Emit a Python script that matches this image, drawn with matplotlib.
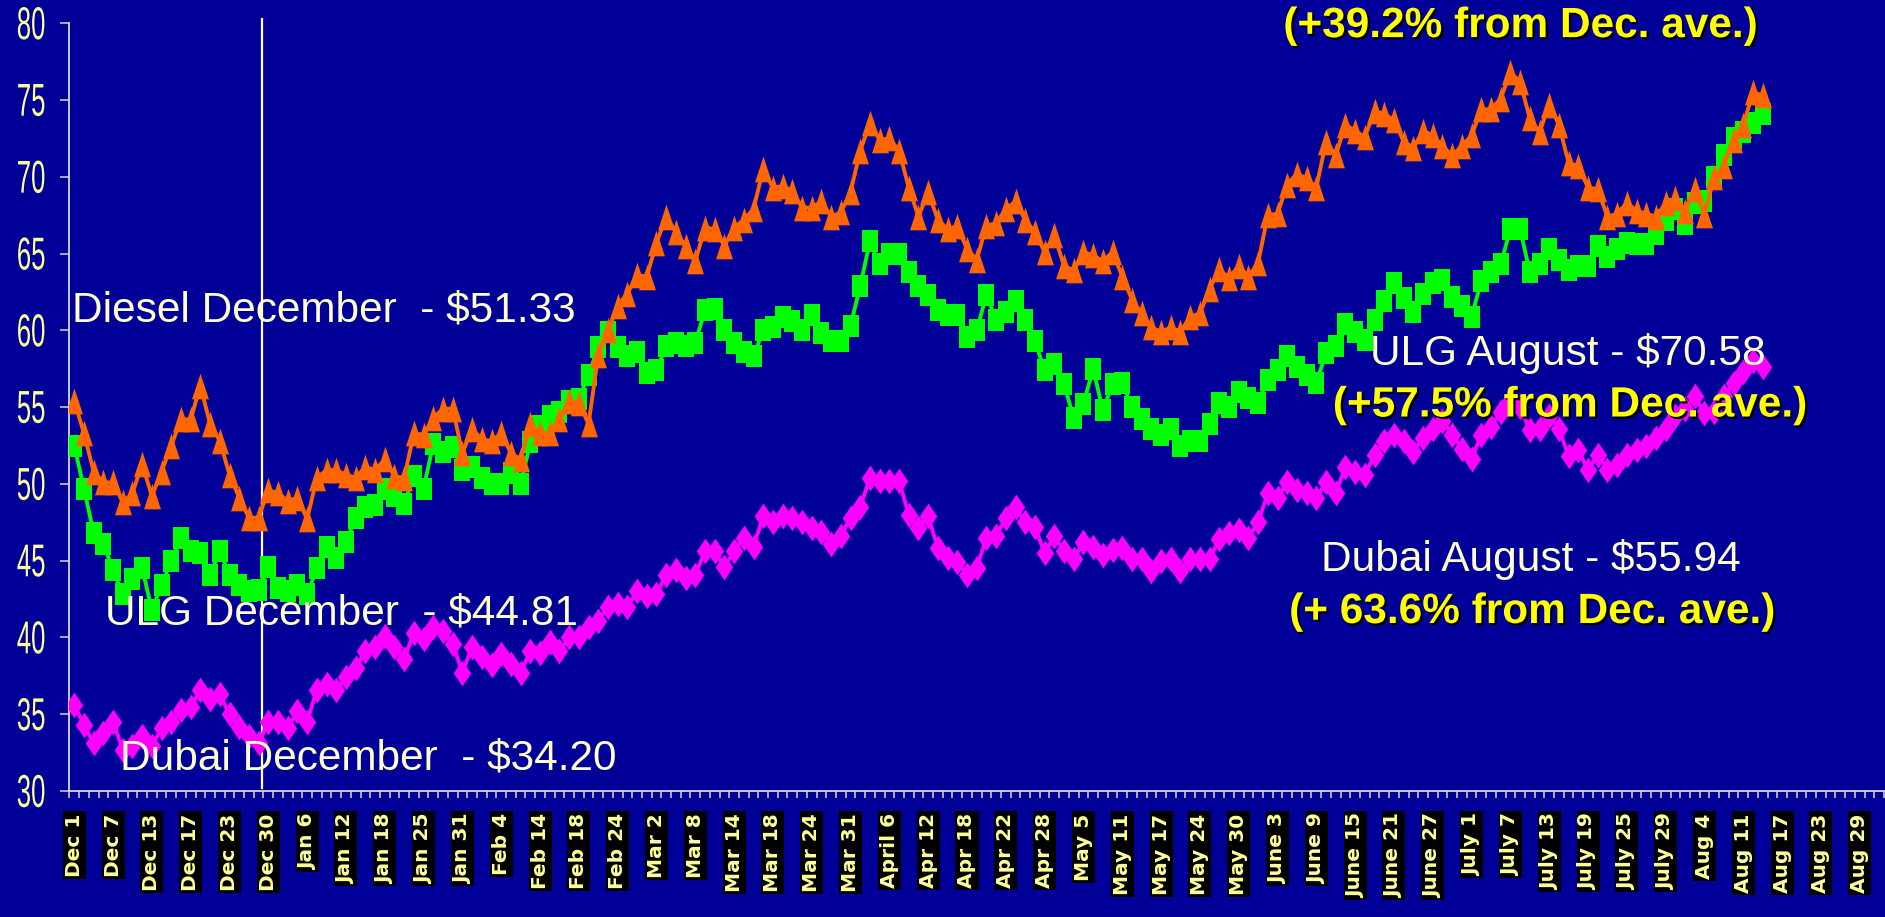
import matplotlib
matplotlib.use("Agg")
import matplotlib.pyplot as plt
import matplotlib.patheffects as pe
from matplotlib.textpath import TextPath
from matplotlib.patches import PathPatch
from matplotlib.transforms import Affine2D
from matplotlib.font_manager import FontProperties

# --- data (daily prices, Dec 1 .. Aug 15) ---
diesel = [
    55.4, 53.3, 50.8, 50.1, 50.1, 48.8, 49.4, 51.3, 49.2, 50.8,
    52.5, 54.2, 54.2, 56.4, 53.9, 52.8, 50.6, 49.1, 47.8, 47.8,
    49.6, 49.4, 48.9, 49.1, 47.7, 50.4, 50.9, 50.9, 50.6, 50.4,
    51.1, 50.9, 51.6, 50.5, 50.4, 53.3, 53.2, 54.3, 54.9, 54.9,
    52.0, 53.6, 52.9, 52.8, 53.3, 52.0, 51.6, 53.9, 53.3, 53.3,
    54.2, 55.4, 55.3, 53.9, 58.4, 60.0, 61.6, 62.4, 63.6, 63.5,
    65.7, 67.4, 66.4, 65.5, 64.5, 66.7, 66.6, 65.5, 66.7, 67.2,
    67.9, 70.5, 69.3, 69.4, 69.1, 68.0, 68.0, 68.4, 67.4, 67.7,
    69.0, 71.7, 73.5, 72.4, 72.5, 71.7, 69.3, 67.4, 69.0, 67.2,
    66.6, 66.8, 65.3, 64.6, 66.8, 67.0, 67.9, 68.4, 67.2, 66.4,
    65.1, 66.2, 64.2, 63.9, 65.1, 64.9, 64.5, 65.1, 63.5, 62.0,
    61.1, 60.2, 59.9, 60.2, 59.9, 60.9, 61.1, 62.7, 64.0, 63.4,
    64.2, 63.5, 64.4, 67.5, 67.6, 69.5, 70.2, 69.9, 69.3, 72.3,
    71.4, 73.4, 73.0, 72.6, 74.3, 74.1, 73.7, 72.3, 71.9, 73.0,
    72.7, 72.0, 71.4, 72.0, 72.7, 74.4, 74.4, 75.1, 76.8, 76.2,
    73.8, 72.9, 74.7, 73.4, 70.9, 70.7, 69.3, 69.2, 67.4, 67.6,
    68.3, 67.8, 67.6, 67.4, 68.3, 68.6, 67.8, 69.2, 67.5, 70.0,
    70.7, 72.4, 73.4, 75.5, 75.3,
]

ulg = [
    52.5, 49.7, 46.8, 46.1, 44.4, 42.8, 43.8, 44.5, 41.8, 43.4,
    45.0, 46.5, 45.6, 45.5, 44.1, 45.6, 44.1, 43.4, 43.0, 43.1,
    44.6, 43.2, 43.0, 43.4, 42.8, 44.5, 45.9, 45.2, 46.2, 47.8,
    48.5, 48.6, 49.7, 49.2, 48.7, 50.5, 49.7, 52.6, 52.1, 52.4,
    50.9, 51.1, 50.4, 50.0, 50.0, 50.7, 50.0, 52.7, 53.8, 54.4,
    54.7, 55.4, 55.5, 57.1, 58.9, 59.9, 58.9, 58.3, 58.6, 57.2,
    57.4, 59.0, 59.2, 59.0, 59.2, 61.3, 61.4, 60.0, 59.2, 58.6,
    58.3, 60.0, 60.2, 60.9, 60.6, 60.0, 61.0, 59.8, 59.3, 59.3,
    60.3, 62.9, 65.8, 64.3, 65.0, 65.0, 63.8, 62.9, 62.3, 61.3,
    61.0, 61.0, 59.6, 60.0, 62.3, 60.7, 61.2, 61.9, 60.7, 59.3,
    57.4, 57.8, 56.5, 54.3, 55.2, 57.5, 54.8, 56.5, 56.6, 55.0,
    54.2, 53.6, 53.2, 53.6, 52.5, 52.8, 52.8, 53.9, 55.3, 55.0,
    56.0, 55.6, 55.3, 56.8, 57.4, 58.3, 57.6, 57.1, 56.6, 58.5,
    59.0, 60.4, 59.9, 59.4, 60.7, 61.9, 63.1, 62.1, 61.2, 62.4,
    63.1, 63.3, 62.2, 61.6, 60.9, 63.2, 63.8, 64.3, 66.6, 66.6,
    63.8, 64.3, 65.3, 64.6, 63.9, 64.2, 64.2, 65.5, 64.8, 65.3,
    65.7, 65.6, 65.6, 66.3, 67.2, 67.9, 66.9, 68.3, 68.4, 70.0,
    71.4, 72.5, 72.9, 73.5, 74.1,
]

dubai = [
    35.6, 34.3, 33.1, 33.8, 34.5, 32.7, 32.9, 33.6, 32.9, 34.1,
    34.5, 35.3, 35.5, 36.6, 36.0, 36.3, 35.0, 34.2, 33.6, 33.1,
    34.5, 34.5, 34.1, 35.2, 34.5, 36.6, 37.0, 36.6, 37.4, 38.0,
    39.1, 39.4, 40.1, 39.4, 38.6, 40.3, 39.9, 40.7, 40.4, 39.6,
    37.7, 39.4, 38.7, 38.2, 38.9, 38.3, 37.7, 39.1, 39.0, 39.7,
    39.1, 40.0, 40.0, 40.7, 41.1, 42.0, 42.2, 42.0, 43.0, 42.7,
    42.8, 44.1, 44.4, 43.9, 44.1, 45.6, 45.6, 44.6, 45.6, 46.5,
    45.9, 47.9, 47.5, 47.9, 47.8, 47.5, 47.1, 46.9, 46.1, 46.6,
    47.8, 48.5, 50.4, 50.2, 50.2, 50.2, 48.0, 47.1, 47.9, 45.8,
    45.2, 44.9, 44.1, 44.5, 46.5, 46.6, 47.8, 48.5, 47.5, 47.2,
    45.5, 46.6, 45.6, 45.1, 46.2, 45.9, 45.4, 45.7, 45.8, 45.1,
    45.1, 44.3, 45.0, 45.1, 44.3, 45.1, 45.1, 45.1, 46.4, 46.8,
    47.0, 46.5, 47.5, 49.4, 49.1, 50.1, 49.6, 49.4, 49.1, 50.1,
    49.4, 51.1, 50.8, 50.6, 51.9, 52.8, 53.2, 52.8, 52.1, 53.0,
    53.6, 54.1, 53.2, 52.3, 51.6, 53.2, 53.7, 54.7, 55.4, 55.0,
    53.5, 53.6, 54.4, 53.6, 51.8, 52.2, 50.9, 51.9, 50.9, 51.2,
    51.9, 52.2, 52.5, 53.0, 53.6, 54.4, 54.9, 55.7, 54.6, 54.7,
    55.7, 56.6, 57.3, 58.0, 57.6,
]

# one label every 4th trading day
date_labels = [
    "Dec 1", "Dec 7", "Dec 13", "Dec 17", "Dec 23", "Dec 30",
    "Jan 6", "Jan 12", "Jan 18", "Jan 25", "Jan 31",
    "Feb 4", "Feb 14", "Feb 18", "Feb 24",
    "Mar 2", "Mar 8", "Mar 14", "Mar 18", "Mar 24", "Mar 31",
    "April 6", "Apr 12", "Apr 18", "Apr 22", "Apr 28",
    "May 5", "May 11", "May 17", "May 24", "May 30",
    "June 3", "June 9", "June 15", "June 21", "June 27",
    "July 1", "July 7", "July 13", "July 19", "July 25", "July 29",
    "Aug 4", "Aug 11", "Aug 17", "Aug 23", "Aug 29",
]
y_ticks = [30, 35, 40, 45, 50, 55, 60, 65, 70, 75, 80]
label_step = 4
n_slots = 187

BG = "#000099"
CREAM = "#FFFFCC"
YELLOW = "#FFFF00"
TICK_YELLOW = "#FFFF99"

fig = plt.figure(figsize=(18.85, 9.17), dpi=100, facecolor=BG)
ax = fig.add_axes([69.4 / 1885, 1 - 791 / 917, 1814.6 / 1885, (791 - 23.3) / 917])
ax.set_facecolor(BG)

# tall markers like the original
tri = [(0, 0.5), (0.33, -0.5), (-0.33, -0.5)]
sq = [(-0.35, -0.5), (0.35, -0.5), (0.35, 0.5), (-0.35, 0.5)]
dia = [(0, 0.5), (0.34, 0), (0, -0.5), (-0.34, 0)]

ax.plot(range(len(dubai)), dubai, color="#FF00FF", lw=2.8, marker=dia, ms=18.5, mew=0, zorder=3)
ax.plot(range(len(ulg)), ulg, color="#00FF00", lw=2.8, marker=sq, ms=16, mew=0, zorder=4)
ax.plot(range(len(diesel)), diesel, color="#FF6600", lw=2.8, marker=tri, ms=18.5, mew=0, zorder=5)

# separator between December and the rest
ax.plot([19.3, 19.3], [30.2, 80.3], color="white", lw=1.6, zorder=2, clip_on=False)

ax.set_xlim(-0.5, n_slots - 0.5)
ax.set_ylim(30, 80)

for s in ["top", "right"]:
    ax.spines[s].set_visible(False)
for s in ["left", "bottom"]:
    ax.spines[s].set_color("#D8D8D8")
    ax.spines[s].set_linewidth(1.3)

ax.set_yticks(y_ticks)
ax.tick_params(axis="y", direction="out", length=6.5, width=1.2, color="#C8C8C8",
               labelleft=False)

# narrow, tall y labels: squeeze a text path horizontally
fp = FontProperties(family="Liberation Sans")
x_right = ax.transAxes.transform((0, 0))[0] - 25
for v in y_ticks:
    tp = TextPath((0, 0), str(v), size=46, prop=fp)
    bb = tp.get_extents()
    y_pix = ax.transData.transform((0, v))[1]
    tr = Affine2D().translate(-bb.x1, -(bb.y0 + bb.y1) / 2).scale(0.56, 1.0).translate(x_right, y_pix)
    fig.patches.append(PathPatch(tp, transform=tr, facecolor=TICK_YELLOW, edgecolor="none"))

ax.set_xticks([i - 0.5 for i in range(n_slots + 1)], minor=True)
ax.set_xticks([])
ax.tick_params(axis="x", which="minor", direction="out", length=5, width=1.2, color="#C8C8C8")

xt = ax.get_xaxis_transform()
for k, lab in enumerate(date_labels):
    ax.text(k * label_step, -0.029, lab, transform=xt, rotation=90, ha="center", va="top",
            color=TICK_YELLOW, fontsize=14.5, fontweight="bold", family="DejaVu Sans",
            bbox=dict(facecolor="black", edgecolor="none", pad=1.5), clip_on=False)

# annotations
plain = dict(color=CREAM, fontsize=30.5, family="Liberation Sans", va="baseline",
             ha="left", zorder=10, clip_on=False)
ax.text(-0.2, 60.55, "Diesel December  - $51.33", **plain)
ax.text(3.2, 40.83, "ULG December  - $44.81", **plain)
ax.text(4.7, 31.39, "Dubai December  - $34.20", **plain)
ax.text(133.5, 57.75, "ULG August - $70.58", **plain)
ax.text(128.5, 44.30, "Dubai August - $55.94", **plain)

shadow = [pe.withSimplePatchShadow(offset=(1.6, -1.6), shadow_rgbFace="black", alpha=1.0)]
bold = dict(color=YELLOW, fontsize=30.5, family="Liberation Sans", fontweight="bold",
            va="baseline", ha="left", zorder=11, clip_on=False, path_effects=shadow)
ax.text(124.6, 79.1, "(+39.2% from Dec. ave.)", **bold)
ax.text(129.7, 54.39, "(+57.5% from Dec. ave.)", **bold)
ax.text(125.2, 40.94, "(+ 63.6% from Dec. ave.)", **bold)

fig.savefig("out.png", dpi=100, facecolor=BG)
